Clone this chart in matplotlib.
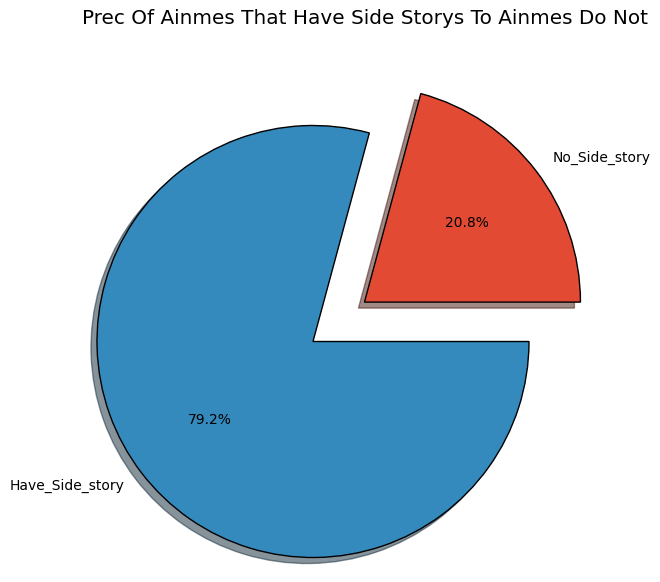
import matplotlib
matplotlib.use("Agg")
import matplotlib.pyplot as plt

labels = ["No_Side_story", "Have_Side_story"]
values = [20.8, 79.2]
colors = ["#E24A33", "#348ABD"]
explode = [0.3, 0]

fig = plt.figure(figsize=(6.6, 5.82), dpi=100)
ax = fig.add_axes([0, 0, 1, 1])

ax.pie(values, labels=labels, colors=colors, explode=explode,
       autopct="%1.1f%%", shadow=True, startangle=0,
       wedgeprops={"edgecolor": "black", "linewidth": 1})

# place the pie where it sits in the reference (center 313,341 px, radius 216 px)
cx, cy, r = 313, 341.5, 216
ax.set_xlim((0 - cx) / r, (660 - cx) / r)
ax.set_ylim((cy - 582) / r, (cy - 0) / r)
ax.set_aspect("auto")
ax.axis("off")

fig.text(364.5 / 660, 1 - 18 / 582, "Prec Of Ainmes That Have Side Storys To Ainmes Do Not",
         ha="center", va="center", fontsize=14.4)

fig.savefig("out.png", dpi=100)
